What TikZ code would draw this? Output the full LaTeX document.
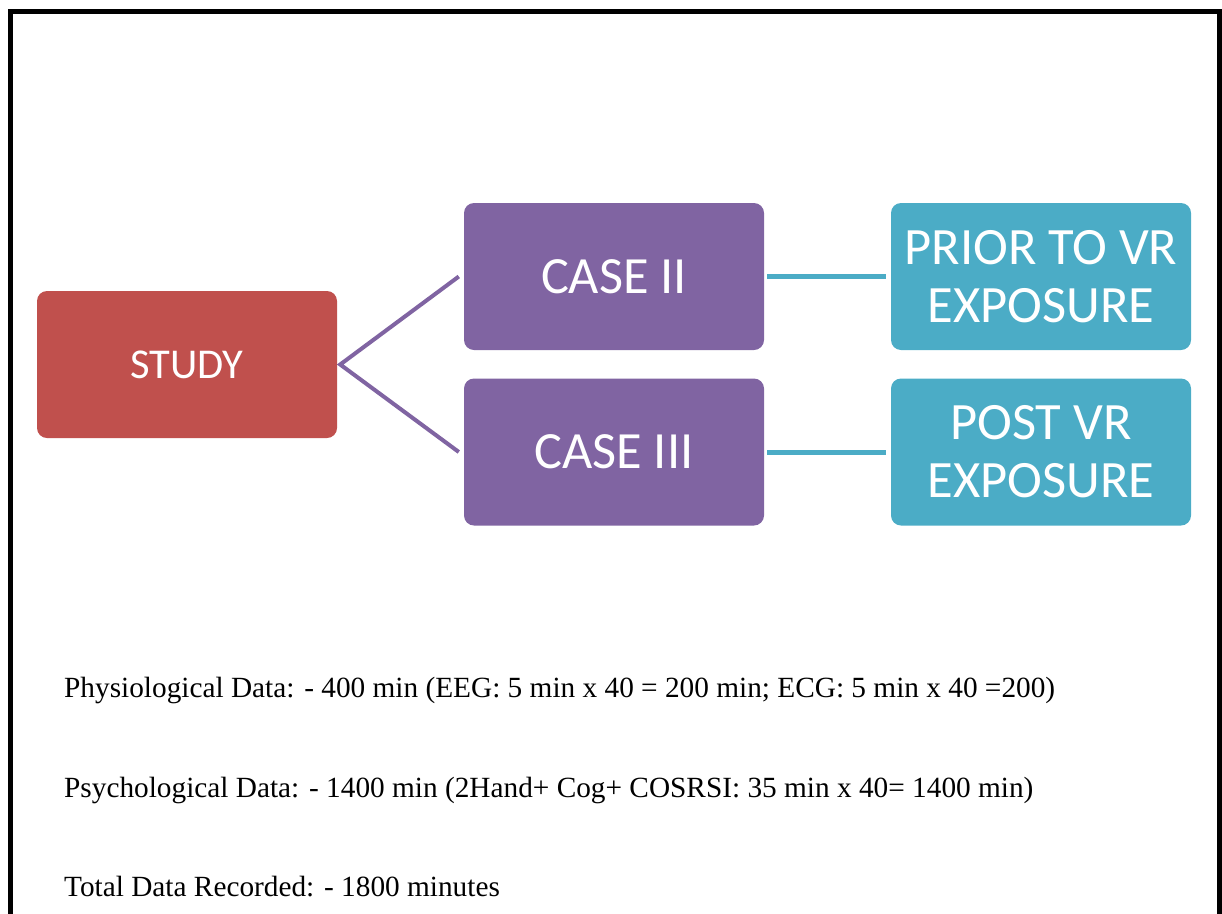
\documentclass[tikz,border=0pt]{standalone}
\usepackage{fontspec}
\setmainfont{Liberation Serif}
\newfontfamily\boxfont{Carlito}
\definecolor{studyred}{HTML}{C0504D}
\definecolor{casepurple}{HTML}{8064A2}
\definecolor{phaseteal}{HTML}{4BACC6}
\tikzset{
  block/.style={rounded corners=10pt, minimum width=300pt, minimum height=147pt,
    inner sep=0pt, text=white, align=center, font=\boxfont},
  link/.style={line width=4pt},
  note/.style={anchor=base west, inner sep=0pt, font=\fontsize{29.3}{35}\selectfont}
}
\begin{document}
\begin{tikzpicture}[x=1pt, y=-1pt]
\useasboundingbox (0,0) rectangle (1222,913);
% outer frame, open at the bottom edge
\draw[line width=5pt] (10.5,940) -- (10.5,11.5) -- (1219.5,11.5) -- (1219.5,940);

% blocks
\node[block, fill=studyred, font=\boxfont\fontsize{42.5}{50}\selectfont] (study) at (187,364.5) {STUDY};
\node[block, fill=casepurple, font=\boxfont\fontsize{52.3}{60}\selectfont] (case2) at (614,276.5) {CASE II};
\node[block, fill=casepurple, font=\boxfont\fontsize{52.3}{60}\selectfont] (case3) at (614,452) {CASE III};
\node[block, fill=phaseteal, font=\boxfont\fontsize{52.5}{58}\selectfont] (prior) at (1041,276.5) {PRIOR TO VR\\EXPOSURE};
\node[block, fill=phaseteal, font=\boxfont\fontsize{52.5}{58}\selectfont] (post) at (1041,452) {POST VR\\EXPOSURE};

% connectors
\draw[link, casepurple, line join=miter] ([xshift=-5pt]case2.west) -- ([xshift=3pt]study.east) -- ([xshift=-5pt]case3.west);
\draw[link, phaseteal, line width=5pt] ([xshift=3pt]case2.east) -- ([xshift=-5pt]prior.west);
\draw[link, phaseteal, line width=5pt] ([xshift=3pt]case3.east) -- ([xshift=-5pt]post.west);

% summary notes
\node[note] (n1) at (64,697) {Physiological Data: - 400 min (EEG: 5 min x 40 = 200 min; ECG: 5 min x 40 =200)};
\node[note] (n2) at (64,797) {Psychological Data: - 1400 min (2Hand+ Cog+ COSRSI: 35 min x 40= 1400 min)};
\node[note] (n3) at (64,896) {Total Data Recorded: - 1800 minutes};
\end{tikzpicture}
\end{document}
